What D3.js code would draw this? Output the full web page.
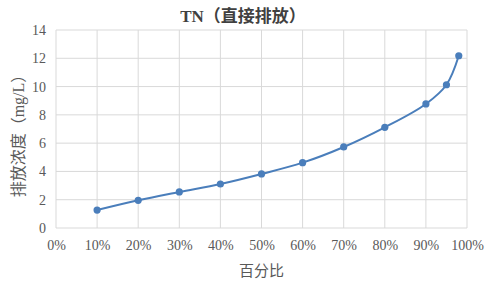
<!DOCTYPE html>
<html>
<head>
<meta charset="utf-8">
<script src="https://cdn.jsdelivr.net/npm/d3@7"></script>
<style>
  body { margin: 0; background: #fff; }
  text { font-family: "Liberation Serif", "Noto Sans CJK SC", serif; fill: #595959; }
</style>
</head>
<body>
<div id="chart"></div>
<script>
const percents = [0.10, 0.20, 0.30, 0.40, 0.50, 0.60, 0.70, 0.80, 0.90, 0.95, 0.98];
const values = [1.27, 1.96, 2.55, 3.11, 3.82, 4.62, 5.73, 7.12, 8.77, 10.13, 12.18];
const xTicks = [0, 0.1, 0.2, 0.3, 0.4, 0.5, 0.6, 0.7, 0.8, 0.9, 1.0];
const yTicks = [0, 2, 4, 6, 8, 10, 12, 14];

const w = 485, h = 284;
const m = { left: 56, right: 18, top: 30, bottom: 56 };

const svg = d3.select('#chart').append('svg')
    .attr('width', w)
    .attr('height', h);

const x = d3.scaleLinear().domain([0, 1]).range([m.left, w - m.right]);
const y = d3.scaleLinear().domain([0, 14]).range([h - m.bottom, m.top]);

// grid
svg.append('g').selectAll('line.v')
    .data(xTicks)
    .enter().append('line')
    .attr('x1', d => x(d)).attr('x2', d => x(d))
    .attr('y1', y(0)).attr('y2', y(14))
    .attr('stroke', '#d9d9d9');
svg.append('g').selectAll('line.h')
    .data(yTicks)
    .enter().append('line')
    .attr('x1', x(0)).attr('x2', x(1))
    .attr('y1', d => y(d)).attr('y2', d => y(d))
    .attr('stroke', '#d9d9d9');

const xAxis = d3.axisBottom(x).tickValues(xTicks).tickFormat(d3.format('.0%')).tickSize(0).tickPadding(12);
const yAxis = d3.axisLeft(y).tickValues(yTicks).tickSize(0).tickPadding(10);

const gx = svg.append('g')
    .attr('transform', 'translate(0,' + (h - m.bottom) + ')')
    .call(xAxis);
const gy = svg.append('g')
    .attr('transform', 'translate(' + m.left + ',0)')
    .call(yAxis);
[gx, gy].forEach(g => {
    g.select('.domain').remove();
    g.selectAll('text').style('font-size', '14px').attr('fill', '#595959')
        .style('font-family', '"Liberation Serif", serif');
});

const line = d3.line()
    .x((d, i) => x(percents[i]))
    .y(d => y(d))
    .curve(d3.curveCatmullRom.alpha(0.5));

svg.append('path')
    .datum(values)
    .attr('d', line)
    .attr('fill', 'none')
    .attr('stroke', '#4a7ebb')
    .attr('stroke-width', 2);

svg.append('g').selectAll('circle')
    .data(values)
    .enter().append('circle')
    .attr('cx', (d, i) => x(percents[i]))
    .attr('cy', d => y(d))
    .attr('r', 3.6)
    .attr('fill', '#4a7ebb');

svg.append('text')
    .attr('x', 243)
    .attr('y', 22)
    .attr('text-anchor', 'middle')
    .style('font-size', '17px')
    .style('font-weight', 'bold')
    .style('fill', '#404040')
    .text('TN（直接排放）');

svg.append('text')
    .attr('transform', 'translate(24,132) rotate(-90)')
    .attr('text-anchor', 'middle')
    .style('font-size', '16px')
    .text('排放浓度（mg/L）');

svg.append('text')
    .attr('x', x(0.5))
    .attr('y', 276)
    .attr('text-anchor', 'middle')
    .style('font-size', '15px')
    .text('百分比');
</script>
</body>
</html>
